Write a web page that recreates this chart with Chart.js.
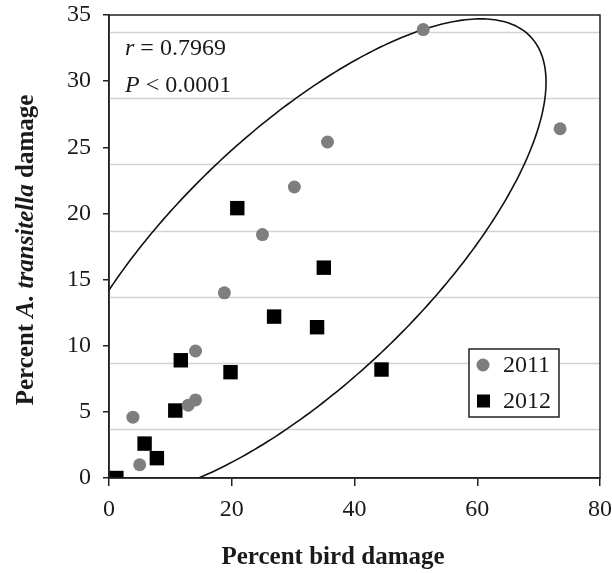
<!DOCTYPE html>
<html>
<head>
<meta charset="utf-8">
<script src="https://cdn.jsdelivr.net/npm/chart.js@4.4.0/dist/chart.umd.min.js"></script>
<style>
  html, body { margin: 0; padding: 0; background: #fff; }
  #wrap { width: 612px; height: 573px; }
</style>
</head>
<body>
<div id="wrap"><canvas id="chart"></canvas></div>
<script>
// data
var bird2011 = [51.2, 73.5, 35.6, 30.2, 25.0, 18.8, 14.1, 14.1, 12.9, 3.9, 5.0];
var moth2011 = [33.9, 26.4, 25.4, 22.0, 18.4, 14.0, 9.6, 5.9, 5.5, 4.6, 1.0];
var bird2012 = [20.9, 35.0, 26.9, 33.9, 11.7, 19.8, 44.4, 10.8, 5.8, 7.8, 1.2];
var moth2012 = [20.4, 15.9, 12.2, 11.4, 8.9, 8.0, 8.2, 5.1, 2.6, 1.5, 0.0];
var seriesNames = ['2011', '2012'];
var xTickVals = [0, 20, 40, 60, 80];
var yTickVals = [0, 5, 10, 15, 20, 25, 30, 35];
var gridVals = [3.7, 8.7, 13.7, 18.7, 23.7, 28.7, 33.7];
// confidence ellipse, in data units
var ellCenter = [30.96, 16.61];
var ellRadii = [42.58, 11.59];
var ellAngle = 19.83;

var serif = '"Liberation Serif", "DejaVu Serif", serif';
var grey = '#7e7e7e';

function pairs(xs, ys) {
  return xs.map(function (x, i) { return { x: x, y: ys[i] }; });
}

Chart.defaults.font.family = serif;
Chart.defaults.font.size = 24;
Chart.defaults.color = '#1a1a1a';

var extras = {
  id: 'extras',
  beforeDatasetsDraw: function (chart) {
    var ctx = chart.ctx, a = chart.chartArea;
    var xs = chart.scales.x, ys = chart.scales.y;
    ctx.save();
    // grid lines sit a little below the ticks in the original
    ctx.strokeStyle = '#d2d2d2';
    ctx.lineWidth = 1.5;
    gridVals.forEach(function (v) {
      var py = Math.round(ys.getPixelForValue(v)) + 0.5;
      ctx.beginPath();
      ctx.moveTo(a.left, py);
      ctx.lineTo(a.right, py);
      ctx.stroke();
    });
    // ellipse
    ctx.beginPath();
    ctx.rect(a.left, a.top, a.right - a.left, a.bottom - a.top);
    ctx.clip();
    var ang = ellAngle * Math.PI / 180;
    ctx.beginPath();
    for (var i = 0; i <= 360; i++) {
      var t = i * Math.PI / 180;
      var dx = ellRadii[0] * Math.cos(t), dy = ellRadii[1] * Math.sin(t);
      var vx = ellCenter[0] + dx * Math.cos(ang) - dy * Math.sin(ang);
      var vy = ellCenter[1] + dx * Math.sin(ang) + dy * Math.cos(ang);
      var px = xs.getPixelForValue(vx), py2 = ys.getPixelForValue(vy);
      if (i === 0) ctx.moveTo(px, py2); else ctx.lineTo(px, py2);
    }
    ctx.strokeStyle = '#111';
    ctx.lineWidth = 1.6;
    ctx.stroke();
    ctx.restore();
  },
  afterDraw: function (chart) {
    var ctx = chart.ctx, a = chart.chartArea;
    ctx.save();
    // box frame
    ctx.strokeStyle = '#222';
    ctx.lineWidth = 1.5;
    ctx.strokeRect(a.left, a.top, a.right - a.left, a.bottom - a.top);

    // r and P
    ctx.fillStyle = '#1a1a1a';
    ctx.textBaseline = 'alphabetic';
    var lines = [['r', ' = 0.7969', 55], ['P', ' < 0.0001', 92]];
    lines.forEach(function (l) {
      ctx.font = 'italic 24px ' + serif;
      ctx.fillText(l[0], a.left + 16, l[2]);
      var w = ctx.measureText(l[0]).width;
      ctx.font = '24px ' + serif;
      ctx.fillText(l[1], a.left + 16 + w, l[2]);
    });

    // legend
    var lx = 469, ly = 349, lw = 90, lh = 68;
    ctx.fillStyle = '#fff';
    ctx.fillRect(lx, ly, lw, lh);
    ctx.strokeStyle = '#222';
    ctx.lineWidth = 1.5;
    ctx.strokeRect(lx, ly, lw, lh);
    ctx.font = '24px ' + serif;
    ctx.textBaseline = 'middle';
    chart.data.datasets.forEach(function (ds, i) {
      var cy = ly + 16 + i * 36;
      ctx.fillStyle = ds.backgroundColor;
      if (ds.pointStyle === 'rect') {
        ctx.fillRect(lx + 8, cy - 6.5, 13, 13);
      } else {
        ctx.beginPath();
        ctx.arc(lx + 14, cy, 6.5, 0, Math.PI * 2);
        ctx.fill();
      }
      ctx.fillStyle = '#1a1a1a';
      ctx.fillText(ds.label, lx + 34, cy + 1);
    });

    // x axis title (sits left of the plot centre in the original)
    ctx.font = 'bold 25px ' + serif;
    ctx.textAlign = 'center';
    ctx.textBaseline = 'alphabetic';
    ctx.fillText('Percent bird damage', 333, 564);
    ctx.textAlign = 'left';

    // y axis title with italic species name
    var parts = [['bold ', 'Percent '], ['bold italic ', 'A. transitella'], ['bold ', ' damage']];
    var total = 0;
    parts.forEach(function (p) {
      ctx.font = p[0] + '25px ' + serif;
      total += ctx.measureText(p[1]).width;
    });
    ctx.translate(27, 250);
    ctx.rotate(-Math.PI / 2);
    ctx.textBaseline = 'middle';
    var x = -total / 2;
    parts.forEach(function (p) {
      ctx.font = p[0] + '25px ' + serif;
      ctx.fillText(p[1], x, 0);
      x += ctx.measureText(p[1]).width;
    });
    ctx.restore();
  }
};

new Chart(document.getElementById('chart'), {
  type: 'scatter',
  data: {
    datasets: [{
      label: seriesNames[0],
      data: pairs(bird2011, moth2011),
      pointStyle: 'circle',
      pointRadius: 6.5,
      pointHoverRadius: 6.5,
      borderWidth: 0,
      backgroundColor: grey,
      borderColor: grey
    }, {
      label: seriesNames[1],
      data: pairs(bird2012, moth2012),
      pointStyle: 'rect',
      pointRadius: 10.2,
      pointHoverRadius: 10.2,
      borderWidth: 0,
      backgroundColor: '#000',
      borderColor: '#000'
    }]
  },
  options: {
    responsive: true,
    maintainAspectRatio: false,
    animation: false,
    layout: { padding: { top: 15, right: 12, left: 0, bottom: 0 } },
    plugins: {
      legend: { display: false },
      tooltip: { enabled: false }
    },
    scales: {
      x: {
        type: 'linear',
        min: 0,
        max: 80,
        afterBuildTicks: function (s) { s.ticks = xTickVals.map(function (v) { return { value: v }; }); },
        afterFit: function (s) { s.height = 95; s.paddingLeft = 0; s.paddingRight = 0; },
        ticks: { padding: 9, font: { size: 24 } },
        grid: { drawOnChartArea: false, drawTicks: true, tickLength: 8, color: '#222', lineWidth: 1.5 },
        border: { color: '#222', width: 1.5 }
      },
      y: {
        type: 'linear',
        min: 0,
        max: 35,
        afterBuildTicks: function (s) { s.ticks = yTickVals.map(function (v) { return { value: v }; }); },
        afterFit: function (s) { s.width = 109; s.paddingTop = 0; s.paddingBottom = 0; },
        ticks: { padding: 12, font: { size: 24 } },
        grid: { drawOnChartArea: false, drawTicks: true, tickLength: 6, color: '#222', lineWidth: 1.5 },
        border: { color: '#222', width: 1.5 }
      }
    }
  },
  plugins: [extras]
});
</script>
</body>
</html>
